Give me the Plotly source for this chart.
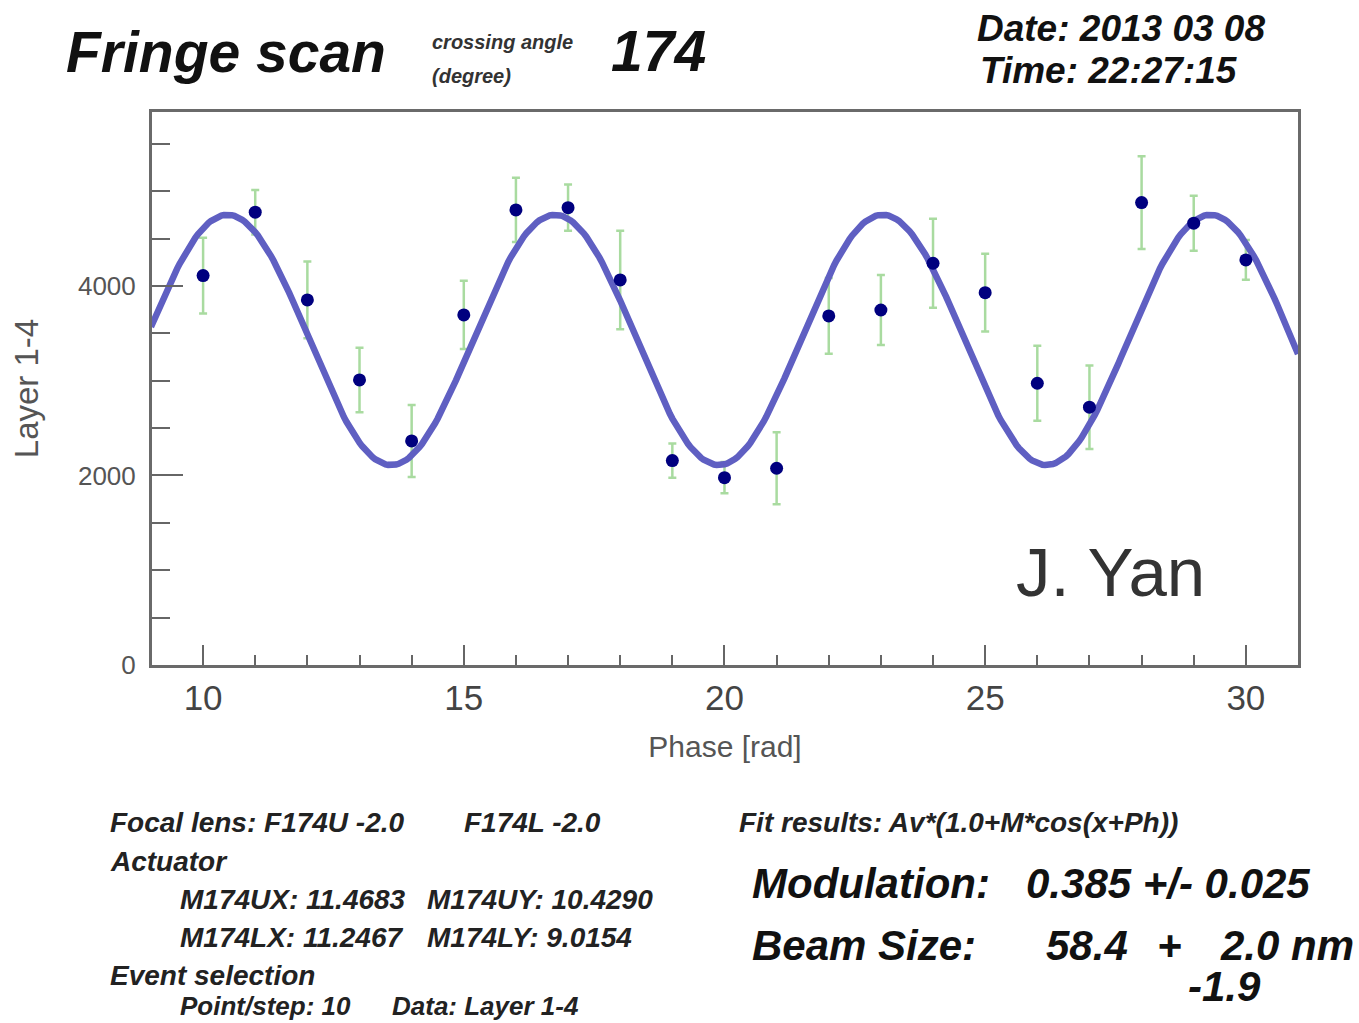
import math
import plotly.graph_objects as go

# ---- data ----
phase = [10, 11, 12, 13, 14, 15, 16, 17, 18, 19, 20, 21, 22, 23, 24, 25, 26, 27, 28, 29, 30]
counts = [4109, 4778, 3852, 3008, 2364, 3694, 4802, 4826, 4063, 2157, 1977, 2076,
          3683, 3746, 4239, 3929, 2973, 2720, 4879, 4662, 4274]
errors = [400, 235, 405, 340, 380, 360, 340, 245, 520, 180, 165, 380,
          400, 370, 470, 410, 395, 440, 490, 290, 210]

# fit model Av*(1.0+M*cos(x+Ph)) with parameters
fit_av = 3430.0
fit_m = 0.385
fit_ph = 2.10
fit_x = [9.0 + i * 0.05 for i in range(441)]
fit_y = [fit_av * (1.0 + fit_m * math.cos(x + fit_ph)) for x in fit_x]

x_ticks = [10, 15, 20, 25, 30]
y_ticks = [0, 2000, 4000]

# ---- layout geometry (pixels) ----
W, H = 1359, 1023
L, R, T, B = 152, 1298, 112, 665


def px(x):
    return (x - L) / (R - L)


def py(y):
    return (B - y) / (B - T)


fig = go.Figure()

# error bars (below the curve)
fig.add_trace(go.Scatter(
    x=phase, y=counts, mode="markers",
    marker=dict(size=1, color="rgba(0,0,0,0)"),
    error_y=dict(type="data", array=errors, visible=True,
                 color="#a9dba0", thickness=2.5, width=4),
    showlegend=False, hoverinfo="skip"))

# fit curve
fig.add_trace(go.Scatter(
    x=fit_x, y=fit_y, mode="lines",
    line=dict(color="#5f5fc2", width=6.5),
    showlegend=False))

# data points
fig.add_trace(go.Scatter(
    x=phase, y=counts, mode="markers",
    marker=dict(size=13, color="#00007f"),
    showlegend=False))

FONT = "Liberation Sans"

fig.update_layout(
    width=W, height=H,
    margin=dict(l=L, r=W - R, t=T, b=H - B, pad=0),
    paper_bgcolor="white", plot_bgcolor="white",
    font=dict(family=FONT, color="#444"),
    xaxis=dict(
        range=[9.02, 31.0], tickvals=x_ticks, ticks="inside", ticklen=20,
        tickwidth=2, tickcolor="#666",
        minor=dict(dtick=1, ticks="inside", ticklen=10, tickwidth=2, tickcolor="#666"),
        showgrid=False, zeroline=False,
        showline=True, linecolor="#6a6a6a", linewidth=3, mirror=True,
        tickfont=dict(size=35, color="#444", family=FONT),
        title=dict(text="Phase [rad]", font=dict(size=30, color="#555", family=FONT), standoff=20),
    ),
    yaxis=dict(
        range=[0, 5835], tickvals=y_ticks, ticks="inside", ticklen=31,
        tickwidth=2, tickcolor="#666",
        minor=dict(dtick=500, ticks="inside", ticklen=18, tickwidth=2, tickcolor="#666"),
        showgrid=False, zeroline=False,
        showline=True, linecolor="#6a6a6a", linewidth=3, mirror=True,
        tickfont=dict(size=26, color="#555", family=FONT),
        ticklabelstandoff=8,
        title=dict(text="Layer 1-4", font=dict(size=33, color="#555", family=FONT), standoff=30),
    ),
)


def note(text, x, y, size, color="#111", xanchor="left", bold=True, italic=True):
    t = text
    if italic:
        t = "<i>" + t + "</i>"
    if bold:
        t = "<b>" + t + "</b>"
    fig.add_annotation(text=t, x=px(x), y=py(y), xref="paper", yref="paper",
                       xanchor=xanchor, yanchor="middle", showarrow=False,
                       font=dict(size=size, color=color, family=FONT))


# header
note("Fringe scan", 64, 52, 57)
note("crossing angle", 430, 42, 20, color="#333")
note("(degree)", 430, 76, 20, color="#333")
note("174", 609, 51, 57)
note("Date: 2013 03 08", 975, 28, 37)
note("Time: 22:27:15", 978, 70, 37)

# watermark
note("J. Yan", 1014, 572, 69, color="#333", bold=False, italic=False)

# bottom-left info
SZ = 28
note("Focal lens: F174U -2.0", 108, 823, SZ, color="#222")
note("F174L -2.0", 462, 823, SZ, color="#222")
note("Actuator", 108, 861, SZ, color="#222")
note("M174UX: 11.4683", 178, 899, SZ, color="#222")
note("M174UY: 10.4290", 425, 899, SZ, color="#222")
note("M174LX: 11.2467", 178, 937, SZ, color="#222")
note("M174LY: 9.0154", 425, 937, SZ, color="#222")
note("Event selection", 108, 975, SZ, color="#222")
note("Point/step: 10", 178, 1006, 26, color="#222")
note("Data: Layer 1-4", 390, 1006, 26, color="#222")

# bottom-right fit results
note("Fit results: Av*(1.0+M*cos(x+Ph))", 737, 823, SZ, color="#222")
note("Modulation:", 750, 883, 42)
note("0.385 +/- 0.025", 1024, 883, 42)
note("Beam Size:", 750, 945, 42)
note("58.4", 1044, 945, 42)
note("+", 1155, 945, 42)
note("2.0 nm", 1218, 945, 42)
note("-1.9", 1186, 986, 42)

fig.write_html("out.html")
